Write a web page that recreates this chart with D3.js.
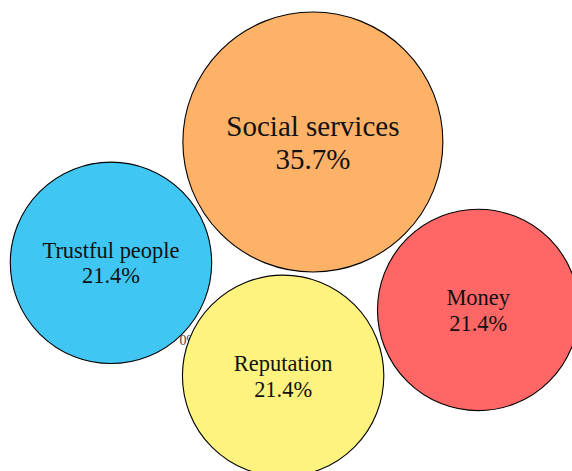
<!DOCTYPE html>
<html>
<head>
<meta charset="utf-8">
<script src="https://cdn.jsdelivr.net/npm/d3@7"></script>
<style>
  html, body { margin: 0; padding: 0; background: #ffffff; }
  svg { display: block; }
</style>
</head>
<body>
<script>
// Answer categories and how many responses named each one
const categories = ["Social services", "Trustful people", "Reputation", "Money", "Other"];
const counts = [5, 3, 3, 3, 0];
const colors = ["#fdb268", "#40c6f2", "#fff380", "#ff6666", "#cccccc"];

// Bubble placement in relative layout units (fraction of width / height)
const layoutX = [0.547, 0.194, 0.495, 0.836, 0.330];
const layoutY = [0.3015, 0.558, 0.798, 0.658, 0.733];

const width = 572, height = 471;
const total = d3.sum(counts);

const svg = d3.select("body").append("svg")
  .attr("width", width)
  .attr("height", height);

const x = d3.scaleLinear().domain([0, 1]).range([0, width]);
const y = d3.scaleLinear().domain([0, 1]).range([0, height]);
const r = d3.scaleSqrt().domain([0, d3.max(counts)]).range([0, 130]);
const fontSize = d3.scaleLinear().domain([0, 130]).range([0, 29]);
const pct = d3.format(".1%");

const data = categories.map((c, i) => ({
  name: c, value: counts[i], share: counts[i] / total,
  color: colors[i], lx: layoutX[i], ly: layoutY[i]
}));

// Empty categories only show their share, drawn underneath the bubbles
const empty = data.filter(d => d.value === 0);
svg.selectAll("text.empty")
  .data(empty)
  .join("text")
  .attr("class", "empty")
  .attr("x", d => x(d.lx))
  .attr("y", d => y(d.ly))
  .attr("text-anchor", "middle")
  .attr("font-family", "Liberation Serif, serif")
  .attr("font-size", 14)
  .attr("fill", "#444")
  .text(d => pct(d.share).replace(".0", ""));

const filled = data.filter(d => d.value > 0);
const g = svg.selectAll("g.bubble")
  .data(filled)
  .join("g")
  .attr("class", "bubble")
  .attr("transform", d => `translate(${x(d.lx)},${y(d.ly)})`);

g.append("circle")
  .attr("r", d => r(d.value))
  .attr("fill", d => d.color)
  .attr("stroke", "#000")
  .attr("stroke-width", 1.1);

const label = g.append("text")
  .attr("text-anchor", "middle")
  .attr("font-family", "Liberation Serif, serif")
  .attr("font-size", d => fontSize(r(d.value)))
  .attr("fill", "#111");

label.append("tspan")
  .attr("x", 0)
  .attr("dy", "-0.2em")
  .text(d => d.name);

label.append("tspan")
  .attr("x", 0)
  .attr("dy", "1.12em")
  .text(d => pct(d.share));
</script>
</body>
</html>
